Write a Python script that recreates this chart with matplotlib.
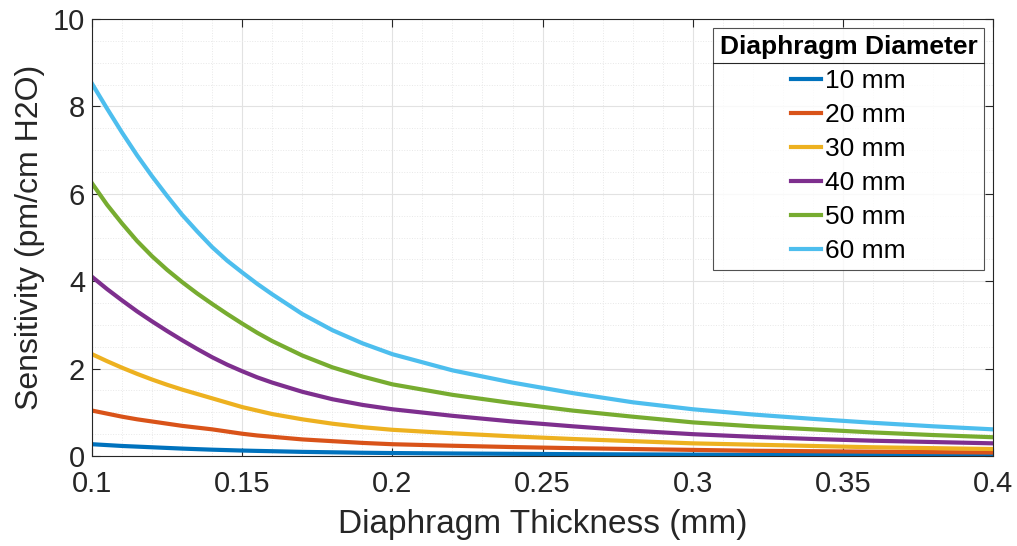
import numpy as np
import matplotlib.pyplot as plt
from matplotlib.lines import Line2D

thick = [0.100, 0.105, 0.110, 0.115, 0.120, 0.125, 0.130, 0.135, 0.140, 0.145,
         0.150, 0.155, 0.160, 0.17, 0.18, 0.19, 0.20,
         0.22, 0.24, 0.26, 0.28, 0.30, 0.32, 0.34, 0.36, 0.38, 0.40]

sens_10 = [0.27, 0.25, 0.23, 0.215, 0.20, 0.185, 0.17, 0.157, 0.145, 0.135,
           0.125, 0.117, 0.11, 0.095, 0.085, 0.075, 0.068,
           0.058, 0.05, 0.043, 0.037, 0.032, 0.028, 0.025, 0.022, 0.02, 0.018]
sens_20 = [1.04, 0.97, 0.90, 0.84, 0.79, 0.74, 0.69, 0.65, 0.61, 0.56,
           0.51, 0.47, 0.44, 0.38, 0.34, 0.30, 0.27,
           0.235, 0.205, 0.18, 0.16, 0.14, 0.12, 0.11, 0.10, 0.09, 0.08]
sens_30 = [2.33, 2.17, 2.02, 1.88, 1.75, 1.63, 1.52, 1.42, 1.32, 1.22,
           1.12, 1.04, 0.96, 0.84, 0.74, 0.66, 0.60,
           0.52, 0.45, 0.39, 0.34, 0.29, 0.26, 0.23, 0.20, 0.18, 0.16]
sens_40 = [4.10, 3.82, 3.56, 3.31, 3.08, 2.86, 2.65, 2.45, 2.26, 2.09,
           1.94, 1.80, 1.68, 1.47, 1.30, 1.17, 1.07,
           0.92, 0.79, 0.68, 0.58, 0.50, 0.44, 0.39, 0.35, 0.32, 0.29]
sens_50 = [6.24, 5.75, 5.32, 4.92, 4.57, 4.26, 3.98, 3.72, 3.48, 3.25,
           3.03, 2.82, 2.63, 2.30, 2.03, 1.82, 1.64,
           1.40, 1.21, 1.04, 0.90, 0.77, 0.68, 0.61, 0.54, 0.48, 0.43]
sens_60 = [8.52, 7.95, 7.40, 6.88, 6.40, 5.95, 5.52, 5.14, 4.78, 4.47,
           4.20, 3.94, 3.70, 3.25, 2.88, 2.58, 2.33,
           1.96, 1.68, 1.44, 1.23, 1.07, 0.95, 0.85, 0.76, 0.68, 0.61]

labels = ['10 mm', '20 mm', '30 mm', '40 mm', '50 mm', '60 mm']
colors = ['#0072BD', '#D95319', '#EDB120', '#7E2F8E', '#77AC30', '#4DBEEE']
series = [sens_10, sens_20, sens_30, sens_40, sens_50, sens_60]

plt.rcParams['font.family'] = ['Liberation Sans', 'DejaVu Sans']

fig = plt.figure(figsize=(10.17, 5.46), dpi=100)
ax = fig.add_axes([0.0905, 0.1648, 0.886, 0.8004])

for y, c, lab in zip(series, colors, labels):
    ax.plot(thick, y, color=c, lw=3, label=lab)

ax.set_xlim(0.1, 0.4)
ax.set_ylim(0, 10)
ax.set_xticks([0.1, 0.15, 0.2, 0.25, 0.3, 0.35, 0.4])
ax.set_xticklabels(['0.1', '0.15', '0.2', '0.25', '0.3', '0.35', '0.4'])
ax.set_yticks([0, 2, 4, 6, 8, 10])
ax.set_xticks(np.arange(0.1, 0.4001, 0.01), minor=True)
ax.set_yticks(np.arange(0, 10.01, 0.5), minor=True)
ax.tick_params(which='major', direction='in', length=6, width=0.8, top=True, right=True,
               labelsize=21, colors='#262626')
ax.tick_params(axis='x', pad=10)
ax.tick_params(axis='y', pad=5)
ax.tick_params(which='minor', length=0)
ax.grid(which='major', color='#e2e2e2', lw=0.8)
ax.grid(which='minor', color='#e8e8e8', lw=0.7, ls=':')
ax.set_axisbelow(True)
for s in ax.spines.values():
    s.set_color('#262626')
    s.set_linewidth(0.8)

ax.set_xlabel('Diaphragm Thickness (mm)', fontsize=24, color='#262626', labelpad=8)
ax.set_ylabel('Sensitivity (pm/cm H2O)', fontsize=23, color='#262626', labelpad=6)

leg = ax.legend(title='Diaphragm Diameter', loc='upper right', fontsize=19,
                title_fontproperties={'weight': 'bold', 'size': 19},
                handlelength=1.15, handletextpad=0.15, labelspacing=0.38,
                borderaxespad=0.35, frameon=True, fancybox=False, borderpad=0.25)
leg.get_frame().set_edgecolor('#262626')
leg.get_frame().set_linewidth(0.8)

# line under the legend title
fig.canvas.draw()
fb = leg.get_frame().get_window_extent()
tb = leg.get_title().get_window_extent()
inv = fig.transFigure.inverted()
x0, yl = inv.transform((fb.x0, tb.y0 - 4))
x1, _ = inv.transform((fb.x1, tb.y0 - 4))
fig.add_artist(Line2D([x0, x1], [yl, yl], color='#262626', lw=0.8))

fig.savefig('out.png', dpi=100)
